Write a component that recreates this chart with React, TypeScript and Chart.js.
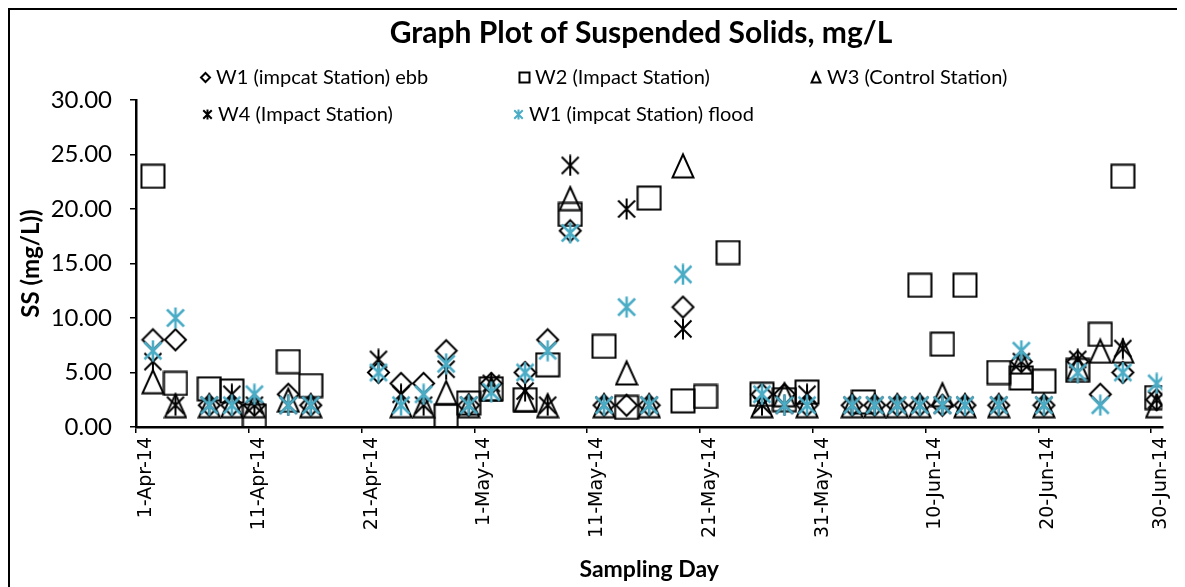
import React, { useEffect, useRef } from 'react';
import { Chart, registerables } from 'chart.js';

Chart.register(...registerables);

// ---------------- data ----------------
const sampleDates = [
  '2014-04-02 12:00', '2014-04-04 12:00', '2014-04-07 12:00', '2014-04-09 12:00', '2014-04-11 12:00',
  '2014-04-14 12:00', '2014-04-16 12:00', '2014-04-22 12:00', '2014-04-24 12:00', '2014-04-26 12:00',
  '2014-04-28 12:00', '2014-04-30 12:00', '2014-05-02 12:00', '2014-05-05 12:00', '2014-05-07 12:00',
  '2014-05-09 12:00', '2014-05-12 12:00', '2014-05-14 12:00', '2014-05-16 12:00', '2014-05-19 12:00',
  '2014-05-21 12:00', '2014-05-23 12:00', '2014-05-26 12:00', '2014-05-28 12:00', '2014-05-30 12:00',
  '2014-06-03 12:00', '2014-06-04 12:00', '2014-06-05 12:00', '2014-06-07 12:00', '2014-06-09 12:00',
  '2014-06-11 12:00', '2014-06-13 12:00', '2014-06-16 12:00', '2014-06-18 12:00', '2014-06-20 12:00',
  '2014-06-23 12:00', '2014-06-25 12:00', '2014-06-27 12:00', '2014-06-30 12:00',
];

const w1Ebb = [
  8, 8, 2, 2, 2, 3, 2, 5, 4, 4,
  7, 2, 4, 5, 8, 18, 2, 2, 2, 11,
  null, null, 3, 3, 2, 2, null, 2, 2, 2,
  2, 2, 2, 6, 2, 6, 3, 5, 2.5,
];
const w2Impact = [
  23, 4, 3.5, 3.3, 1, 6, 3.8, null, null, null,
  1, 2.2, 3.5, 2.5, 5.7, 19.5, 7.4, 1.8, 21, 2.4,
  2.8, 16, 3, 2.5, 3.2, null, 2.3, null, null, 13,
  7.6, 13, 5, 4.5, 4.2, 5.2, 8.5, 23, 2.7,
];
const w3Control = [
  4.2, 2, 2, 2, 2, 2.5, 2, null, 2, 2,
  3.2, 2, 3.5, 2.5, 2, 21, 2, 5, 2, 24,
  null, null, 2, 3, 2, 2, null, 2, 2, 2,
  3, 2, 2, 6, 2, 5.5, 7, 7, 2,
];
const w4Impact = [
  6, 2, 2, 3, 2, 2, 2, 6.2, 3, 2,
  5.3, 2, 4, 3.3, 2, 24, 2, 20, 2, 9,
  null, null, 2, 2, 3, 2, null, 2, 2, 2,
  2, 2, 2, 6, 2, 6.2, null, 7.2, 2.5,
];
const w1Flood = [
  7, 10, 2, 2, 3, 2, 2, 5, 2, 3,
  5.8, 2, 3.2, 5, 7, 17.8, 2, 11, 2, 14,
  null, null, 3, 2, 2, 2, null, 2, 2, 2,
  2, 2, 2, 7, 2, 5, 2, 5, 4,
];

const seriesNames = [
  'W1 (impcat Station) ebb',
  'W2 (Impact Station)',
  'W3 (Control Station)',
  'W4 (Impact Station)',
  'W1 (impcat Station) flood',
];

const xTickDays = [0, 10, 20, 30, 40, 50, 60, 70, 80, 90];
const yTickValues = [0, 5, 10, 15, 20, 25, 30];

const titleText = 'Graph Plot of Suspended Solids, mg/L';
const xTitle = 'Sampling Day';
const yTitle = 'SS (mg/L))';

// ---------------- helpers ----------------
const MONTHS = ['Jan', 'Feb', 'Mar', 'Apr', 'May', 'Jun', 'Jul', 'Aug', 'Sep', 'Oct', 'Nov', 'Dec'];
const AXIS_START = Date.UTC(2014, 3, 1);
const DAY_MS = 86400000;

function dayOffset(s: string): number {
  const [d, t] = s.split(' ');
  const [Y, M, D] = d.split('-').map(Number);
  const [h, m] = (t || '00:00').split(':').map(Number);
  return (Date.UTC(Y, M - 1, D, h, m) - AXIS_START) / DAY_MS;
}

function fmtDay(day: number): string {
  const dt = new Date(AXIS_START + day * DAY_MS);
  return `${dt.getUTCDate()}-${MONTHS[dt.getUTCMonth()]}-${String(dt.getUTCFullYear()).slice(2)}`;
}

type Kind = 'diamond' | 'square' | 'triangle' | 'star';

function makeMarker(kind: Kind, s: number, color: string, lw: number): HTMLCanvasElement {
  const c = document.createElement('canvas');
  let w = 0;
  let h = 0;
  if (kind === 'diamond') { w = Math.round(25 * s); h = w; }
  else if (kind === 'square') { w = Math.round(26 * s); h = w; }
  else if (kind === 'triangle') { w = Math.round(24 * s); h = Math.round(27 * s); }
  else { w = Math.round(22 * s); h = w; }
  c.width = w;
  c.height = h;
  const ctx = c.getContext('2d')!;
  ctx.strokeStyle = color;
  ctx.lineWidth = lw;
  ctx.lineJoin = 'miter';
  ctx.beginPath();
  if (kind === 'diamond') {
    const cx = w / 2;
    const r = w / 2 - 2;
    ctx.moveTo(cx, cx - r);
    ctx.lineTo(cx + r, cx);
    ctx.lineTo(cx, cx + r);
    ctx.lineTo(cx - r, cx);
    ctx.closePath();
  } else if (kind === 'square') {
    const p = lw / 2 + 0.5;
    ctx.rect(p, p, w - 2 * p, h - 2 * p);
  } else if (kind === 'triangle') {
    const top = lw + 0.5;
    const bottom = h - lw / 2 - 0.5;
    ctx.moveTo(w / 2, top);
    ctx.lineTo(w - lw / 2 - 0.5, bottom);
    ctx.lineTo(lw / 2 + 0.5, bottom);
    ctx.closePath();
  } else {
    const p = 2.5 * s;
    ctx.moveTo(p, p);
    ctx.lineTo(w - p, h - p);
    ctx.moveTo(w - p, p);
    ctx.lineTo(p, h - p);
    ctx.moveTo(w / 2, 0.5);
    ctx.lineTo(w / 2, h - 0.5);
  }
  ctx.stroke();
  return c;
}

const CYAN = '#4BACC6';

export default function App() {
  const canvasRef = useRef<HTMLCanvasElement | null>(null);

  useEffect(() => {
    document.documentElement.style.overflow = 'hidden';
    const canvas = canvasRef.current;
    if (!canvas) return;

    const kinds: Kind[] = ['diamond', 'square', 'triangle', 'star', 'star'];
    const colors = ['#000', '#000', '#000', '#000', CYAN];
    const lws = [2, 2, 2, 2, 2.5];
    const plotMarkers = kinds.map((k, i) => makeMarker(k, 1, colors[i], lws[i]));
    const legendMarkers = kinds.map((k, i) => makeMarker(k, 0.5, colors[i], 2));

    const allSeries = [w1Ebb, w2Impact, w3Control, w4Impact, w1Flood];
    const xs = sampleDates.map(dayOffset);

    const datasets = allSeries.map((vals, i) => ({
      label: seriesNames[i],
      data: vals
        .map((v, j) => (v == null ? null : { x: xs[j], y: v }))
        .filter((p) => p !== null) as { x: number; y: number }[],
      pointStyle: plotMarkers[i] as any,
      pointRadius: 11,
      pointHoverRadius: 11,
      showLine: false,
      order: 4 - i,
    }));

    // legend grid: [marker x, row y] in canvas px
    const legendPos = [
      [195, 67], [514, 67], [806, 67],
      [197, 104], [508, 104],
    ];

    const overlay = {
      id: 'excelOverlay',
      afterDraw(chart: any) {
        const ctx = chart.ctx as CanvasRenderingContext2D;
        ctx.save();
        ctx.fillStyle = '#000';
        ctx.textAlign = 'center';
        ctx.textBaseline = 'alphabetic';
        ctx.font = "bold 30px Lato";
        ctx.fillText(titleText, 631, 33);

        ctx.font = '20px Lato';
        ctx.textAlign = 'left';
        ctx.textBaseline = 'middle';
        seriesNames.forEach((name, i) => {
          const [lx, ly] = legendPos[i];
          const m = legendMarkers[i];
          ctx.drawImage(m, Math.round(lx - m.width / 2), Math.round(ly - m.height / 2));
          ctx.fillStyle = '#000';
          ctx.fillText(name, lx + 11, ly + 1);
        });
        ctx.restore();
      },
    };

    const chart = new Chart(canvas, {
      type: 'scatter',
      data: { datasets: datasets as any },
      plugins: [overlay],
      options: {
        animation: false,
        responsive: false,
        maintainAspectRatio: false,
        devicePixelRatio: 1,
        layout: { padding: { left: 0, right: 15, top: 90, bottom: 0 } },
        plugins: {
          legend: { display: false },
          title: { display: false },
          tooltip: { enabled: false },
        },
        scales: {
          x: {
            type: 'linear',
            min: 0,
            max: 91,
            afterBuildTicks: (scale: any) => {
              scale.ticks = xTickDays.map((v) => ({ value: v }));
            },
            afterFit: (scale: any) => {
              scale.height = 160;
            },
            ticks: {
              autoSkip: false,
              minRotation: 90,
              maxRotation: 90,
              padding: 4,
              labelOffset: 10,
              color: '#000',
              font: { family: "'DejaVu Sans', Verdana, sans-serif", size: 19 },
              callback: (v: any) => fmtDay(Number(v)),
            },
            grid: {
              display: true,
              drawOnChartArea: false,
              drawTicks: true,
              tickLength: 6,
              color: '#000',
              lineWidth: 1.5,
            },
            border: { display: true, color: '#000', width: 2.5 },
            title: {
              display: true,
              text: xTitle,
              color: '#000',
              font: { family: 'Lato', size: 23, weight: 'bold' },
              padding: { top: 0, bottom: 4 },
            },
          },
          y: {
            type: 'linear',
            min: 0,
            max: 30,
            afterBuildTicks: (scale: any) => {
              scale.ticks = yTickValues.map((v) => ({ value: v }));
            },
            afterFit: (scale: any) => {
              scale.width = 126;
            },
            ticks: {
              padding: 18,
              color: '#000',
              font: { family: 'Lato', size: 24 },
              callback: (v: any) => Number(v).toFixed(2),
            },
            grid: {
              display: true,
              drawOnChartArea: false,
              drawTicks: true,
              tickLength: 6,
              color: '#000',
              lineWidth: 1.5,
            },
            border: { display: true, color: '#000', width: 2.5 },
            title: {
              display: true,
              text: yTitle,
              color: '#000',
              font: { family: 'Lato', size: 24, weight: 'bold' },
              padding: { top: 7, bottom: 0 },
            },
          },
        },
      },
    });

    return () => chart.destroy();
  }, []);

  return (
    <div
      style={{
        width: 1168,
        height: 577,
        borderTop: '2px solid #000',
        borderLeft: '2px solid #000',
        borderRight: '2px solid #000',
        background: '#fff',
      }}
    >
      <canvas ref={canvasRef} width={1168} height={577} style={{ display: 'block' }} />
    </div>
  );
}
